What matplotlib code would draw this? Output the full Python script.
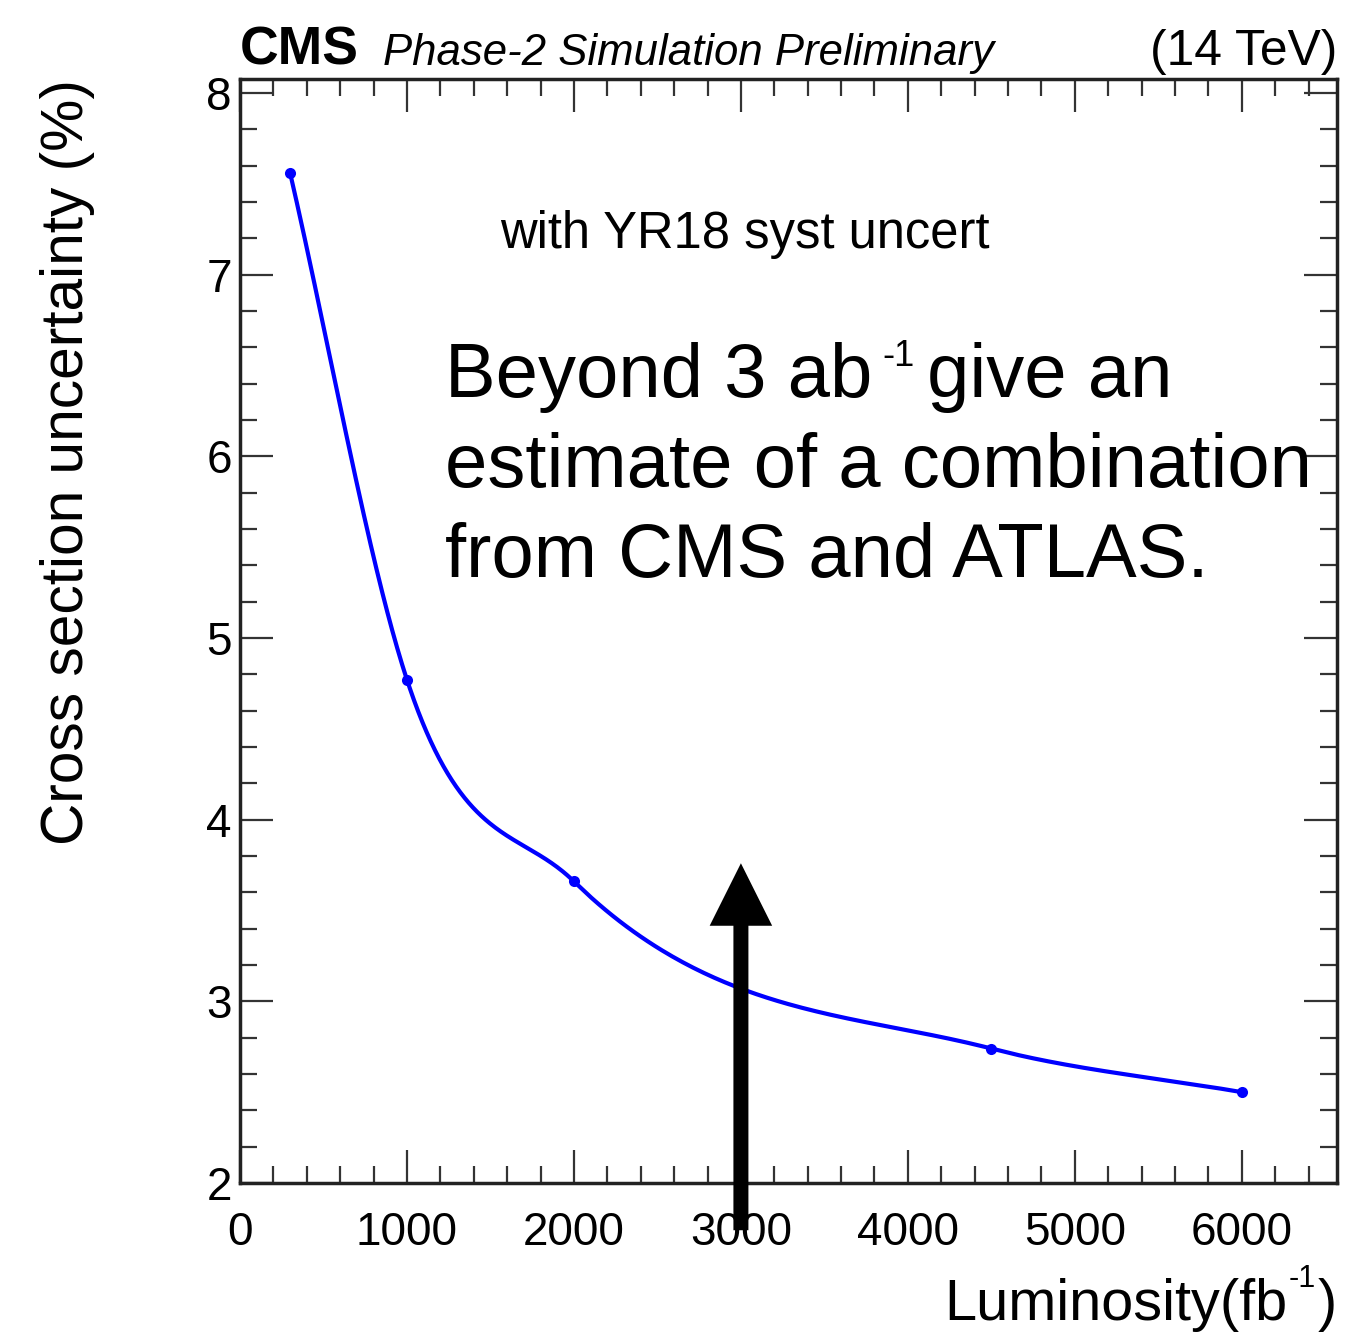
import numpy as np
import matplotlib
matplotlib.use("Agg")
import matplotlib.pyplot as plt
from matplotlib.ticker import MultipleLocator, FixedLocator

plt.rcParams["font.family"] = ["Liberation Sans", "DejaVu Sans"]

# Projected cross-section uncertainty vs integrated luminosity
lumi = [300, 1000, 2000, 4500, 6000]
xsec_unc = [7.56, 4.77, 3.66, 2.74, 2.50]

x_ticks = [0, 1000, 2000, 3000, 4000, 5000, 6000]
y_ticks = [2, 3, 4, 5, 6, 7, 8]

x_range = (0, 6570)
y_range = (2, 8.077)


def smooth_curve(x, y, n=120):
    """Cubic Hermite curve through the points.

    Interior slopes come from the three-point (parabolic) estimate,
    end slopes from the end secants.
    """
    x = np.asarray(x, float)
    y = np.asarray(y, float)
    h = np.diff(x)
    s = np.diff(y) / h
    d = np.empty_like(y)
    d[0], d[-1] = s[0], s[-1]
    d[1:-1] = (h[1:] * s[:-1] + h[:-1] * s[1:]) / (h[:-1] + h[1:])
    xs, ys = [], []
    for i in range(len(h)):
        t = np.linspace(0, 1, n)
        h00 = 2 * t**3 - 3 * t**2 + 1
        h10 = t**3 - 2 * t**2 + t
        h01 = -2 * t**3 + 3 * t**2
        h11 = t**3 - t**2
        seg_y = h00 * y[i] + h10 * h[i] * d[i] + h01 * y[i + 1] + h11 * h[i] * d[i + 1]
        seg_x = x[i] + t * h[i]
        if i > 0:
            seg_x, seg_y = seg_x[1:], seg_y[1:]
        xs.append(seg_x)
        ys.append(seg_y)
    return np.concatenate(xs), np.concatenate(ys)


W, H = 1349, 1337
fig = plt.figure(figsize=(W / 100, H / 100), dpi=100)
ax = fig.add_axes([240 / W, (H - 1183) / H, 1097 / W, 1104 / H])

cx, cy = smooth_curve(lumi, xsec_unc)
ax.plot(cx, cy, color="#0000ff", lw=3.0, solid_capstyle="round")
ax.plot(lumi, xsec_unc, "o", color="#0000ff", ms=8, mec="none")

ax.set_xlim(*x_range)
ax.set_ylim(*y_range)
ax.xaxis.set_major_locator(FixedLocator(x_ticks))
ax.yaxis.set_major_locator(FixedLocator(y_ticks))
ax.xaxis.set_minor_locator(MultipleLocator(200))
ax.yaxis.set_minor_locator(MultipleLocator(0.2))
ax.set_xticklabels([str(v) for v in x_ticks])
ax.set_yticklabels([str(v) for v in y_ticks])

ax.tick_params(which="both", direction="in", top=True, right=True,
               color="#333333", width=1.6)
ax.tick_params(which="major", length=24)
ax.tick_params(which="minor", length=12)
ax.tick_params(axis="x", labelsize=33, pad=20)
ax.tick_params(axis="y", labelsize=33, pad=6)
for sp in ax.spines.values():
    sp.set_linewidth(2.5)
    sp.set_color("#222222")

ax.set_ylabel("Cross section uncertainty (%)", fontsize=42.2, loc="top")
ax.yaxis.set_label_coords(-0.132, 1.0)

# x-axis title with a ROOT-style superscript, built right to left
xt_close = ax.text(1.0, -0.124, ")", transform=ax.transAxes, fontsize=41.5,
                   ha="right", va="baseline")
xt_sup = ax.annotate("-1", xy=(0, 0), xycoords=xt_close, xytext=(-1, 27),
                     textcoords="offset points", fontsize=22, ha="right",
                     va="bottom")
ax.annotate("Luminosity(fb", xy=(0, 0), xycoords=(xt_sup, xt_close),
            xytext=(-1, 0), textcoords="offset points", fontsize=41.5,
            ha="right", va="bottom")

# Header
ax.text(0.0, 1.0127, "CMS", transform=ax.transAxes, fontsize=38.5,
        fontweight="bold", ha="left", va="baseline")
ax.text(0.13, 1.0127, "Phase-2 Simulation Preliminary", transform=ax.transAxes,
        fontsize=31.5, fontstyle="italic", ha="left", va="baseline")
ax.text(1.0, 1.0127, "(14 TeV)", transform=ax.transAxes, fontsize=35.8,
        ha="right", va="baseline")

ax.text(0.237, 0.859, "with YR18 syst uncert", transform=ax.transAxes,
        fontsize=36.5, ha="left", va="center")

# Note on the combined projection beyond 3 ab^-1
note_x = (445 - 240) / 1097
note_fs = 54.7
base_y = [(1183 - 397) / 1104, (1183 - 487) / 1104, (1183 - 577) / 1104]
ln1 = ax.text(note_x, base_y[0], "Beyond 3 ab", transform=ax.transAxes,
              fontsize=note_fs, ha="left", va="baseline")
sup = ax.annotate("-1", xy=(1, 0), xycoords=ln1, xytext=(7, 28),
                  textcoords="offset points", fontsize=26, ha="left",
                  va="bottom")
ax.annotate("give an", xy=(1, 0), xycoords=(sup, ln1), xytext=(9, 0),
            textcoords="offset points", fontsize=note_fs, ha="left",
            va="bottom")
ax.text(note_x, base_y[1], "estimate of a combination", transform=ax.transAxes,
        fontsize=note_fs, ha="left", va="baseline")
ax.text(note_x, base_y[2], "from CMS and ATLAS.", transform=ax.transAxes,
        fontsize=note_fs, ha="left", va="baseline")

# Arrow marking 3 ab^-1
ax.annotate("", xy=(3000, 3.76), xytext=(3000, 1.74),
            arrowprops=dict(arrowstyle="simple,head_length=45,head_width=45,tail_width=10.8",
                            mutation_scale=1, fc="black", ec="none",
                            shrinkA=0, shrinkB=0),
            annotation_clip=False)

fig.savefig("out.png", dpi=100)
